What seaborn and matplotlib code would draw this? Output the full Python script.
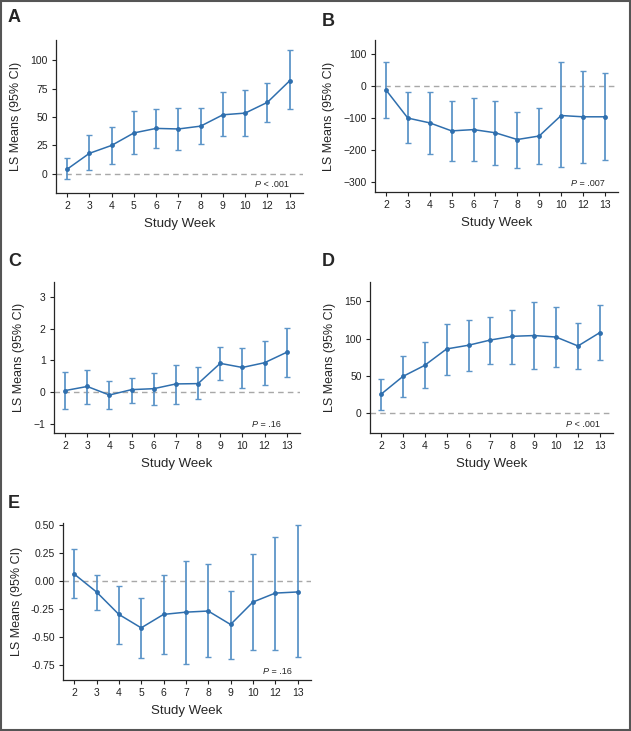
import numpy as np
import pandas as pd
import seaborn as sns
import matplotlib.pyplot as plt
from matplotlib.patches import Rectangle

# study weeks (categorical, equally spaced on the axis)
weeks = ['2', '3', '4', '5', '6', '7', '8', '9', '10', '12', '13']

# panel A
a_mean = [4, 18, 25, 36, 40, 39.5, 42, 52, 53.5, 63, 82]
a_low = [-5, 3, 9, 17, 23, 21, 26, 33, 33, 46, 57]
a_high = [14, 34, 41, 55, 57, 58, 58, 72, 74, 80, 109]

# panel B
b_mean = [-13, -101, -116, -141, -137, -147, -168, -157, -93, -97, -97]
b_low = [-102, -180, -214, -235, -234, -247, -258, -243, -255, -242, -232]
b_high = [73, -21, -21, -49, -37, -49, -81, -71, 73, 46, 39]

# panel C
c_mean = [0.04, 0.17, -0.10, 0.07, 0.10, 0.25, 0.26, 0.90, 0.77, 0.92, 1.25]
c_low = [-0.55, -0.37, -0.53, -0.34, -0.40, -0.37, -0.24, 0.39, 0.13, 0.23, 0.48]
c_high = [0.62, 0.70, 0.35, 0.45, 0.60, 0.85, 0.77, 1.43, 1.40, 1.62, 2.03]

# panel D
d_mean = [25, 49, 64, 86, 91, 98, 103, 104, 102, 90, 108]
d_low = [4, 21, 34, 51, 57, 66, 66, 59, 62, 59, 71]
d_high = [46, 76, 96, 120, 125, 129, 139, 149, 142, 121, 145]

# panel E
e_mean = [0.06, -0.10, -0.30, -0.42, -0.30, -0.28, -0.27, -0.39, -0.19, -0.11, -0.10]
e_low = [-0.15, -0.26, -0.56, -0.69, -0.65, -0.74, -0.68, -0.70, -0.62, -0.62, -0.68]
e_high = [0.28, 0.05, -0.05, -0.15, 0.05, 0.18, 0.15, -0.09, 0.24, 0.39, 0.50]

sns.set_style('ticks')
plt.rcParams['font.family'] = ['Liberation Sans', 'DejaVu Sans']
plt.rcParams['axes.linewidth'] = 0.9

W, H = 631, 731
fig = plt.figure(figsize=(W / 100, H / 100), dpi=100)

line_col = '#2f6fae'
bar_col = '#5d95c8'


def rect(left, top, right, bottom):
    return [left / W, 1 - bottom / H, (right - left) / W, (bottom - top) / H]


panels = [
    ('A', a_mean, a_low, a_high, rect(56, 40, 303, 193), (-17, 118), [0, 25, 50, 75, 100], ' < .001', (8, 18)),
    ('B', b_mean, b_low, b_high, rect(375, 40, 618, 192), (-332, 143), [-300, -200, -100, 0, 100], ' = .007', (322, 22)),
    ('C', c_mean, c_low, c_high, rect(54, 282, 300, 433), (-1.3, 3.47), [-1, 0, 1, 2, 3], ' = .16', (8, 262)),
    ('D', d_mean, d_low, d_high, rect(370, 282, 613, 433), (-27, 176), [0, 50, 100, 150], ' < .001', (322, 262)),
    ('E', e_mean, e_low, e_high, rect(63, 523, 311, 680), (-0.885, 0.515), [-0.75, -0.5, -0.25, 0, 0.25, 0.5], ' = .16', (8, 503)),
]

for label, mean, low, high, pos, ylim, yticks, pval, lab_xy in panels:
    ax = fig.add_axes(pos)
    df = pd.DataFrame({'week': weeks, 'x': np.arange(len(weeks)), 'mean': mean, 'low': low, 'high': high})
    ax.axhline(0, color='#a8a8a8', lw=1.0, ls=(0, (4, 3)), zorder=1)
    ax.errorbar(df['x'], df['mean'], yerr=[df['mean'] - df['low'], df['high'] - df['mean']],
                fmt='none', ecolor=bar_col, elinewidth=1.3, capsize=2, capthick=1.0, zorder=2)
    sns.lineplot(data=df, x='x', y='mean', ax=ax, color=line_col, marker='o', markersize=3.5,
                 markeredgewidth=0, lw=1.1, zorder=3)
    ax.set_xlim(-0.5, 10.6)
    ax.set_ylim(*ylim)
    ax.set_xticks(df['x'])
    ax.set_xticklabels(weeks)
    ax.set_yticks(yticks)
    if label == 'E':
        ax.set_yticklabels([f'{t:.2f}' for t in yticks])
    else:
        ax.set_yticklabels([f'{t:g}'.replace('-', '\u2212') for t in yticks])
    ax.tick_params(labelsize=7.5, length=3, width=0.8, colors='#222222', pad=3)
    ax.set_xlabel('Study Week', fontsize=9.5, labelpad=5)
    ax.set_ylabel('LS Means (95% CI)', fontsize=9, labelpad=6)
    sns.despine(ax=ax)
    ax.text(0.83, 0.055, 'P', transform=ax.transAxes, fontsize=6.5, style='italic', ha='right', va='center')
    ax.text(0.83, 0.055, pval, transform=ax.transAxes, fontsize=6.5, ha='left', va='center')
    fig.text(lab_xy[0] / W, 1 - lab_xy[1] / H, label, fontsize=13, fontweight='bold',
             va='center', ha='left')

# frame around the figure
fig.patches.append(Rectangle((0.001, 0.001), 0.997, 0.997, transform=fig.transFigure,
                             fill=False, edgecolor='#555555', lw=1.5))

fig.savefig('out.png', dpi=100)
